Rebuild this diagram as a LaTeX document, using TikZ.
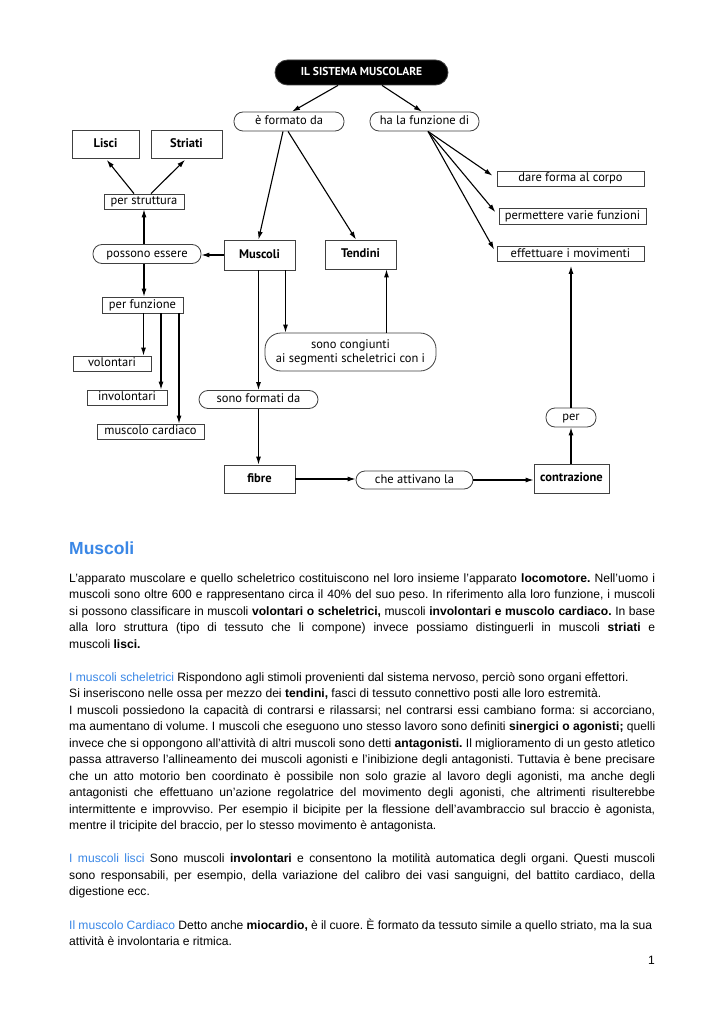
\documentclass[tikz,border=0pt]{standalone}
\usepackage{fontspec}
\setmainfont{Liberation Sans}
\newfontfamily\mapfont{PT Sans}
\usetikzlibrary{arrows.meta,calc}
\definecolor{musblue}{RGB}{58,135,230}
\frenchspacing
\begin{document}
\begin{tikzpicture}[x=1pt,y=-1pt,
  cbase/.style={draw=black!75,line width=0.8pt,inner sep=0pt,font=\mapfont\fontsize{12.5}{14}\selectfont,align=center},
  cbox/.style={cbase,text height=8.8pt,text depth=2.6pt},
  bcbox/.style={cbox,font=\mapfont\fontsize{12.5}{14}\selectfont\bfseries},
  pill/.style={cbox,rounded corners=#1},
  pill/.default=9pt,
  arr/.style={-{Latex[length=8pt,width=5pt]},line width=1.1pt},
  body/.style={anchor=base west,inner sep=0pt,font=\fontsize{12.1}{17}\selectfont},
  head/.style={anchor=base west,inner sep=0pt,font=\fontsize{17.5}{20}\selectfont\bfseries,text=musblue}]
\useasboundingbox (0,0) rectangle (724,1024);
\fill[white] (0,0) rectangle (724,1024);

% ---------- concept map ----------
\node[cbox,fill=black,text=white,rounded corners=12.5pt,minimum width=173pt,minimum height=25pt,font=\mapfont\fontsize{11.5}{13}\selectfont\bfseries] (title) at (361.5,72.5) {IL SISTEMA MUSCOLARE};
\node[pill,minimum width=110pt,minimum height=19pt] (efd) at (289,121.5) {è formato da};
\node[pill,minimum width=109pt,minimum height=19pt] (hlf) at (424.5,121.5) {ha la funzione di};
\node[bcbox,minimum width=67pt,minimum height=28pt] (lisci) at (105.5,144) {Lisci};
\node[bcbox,minimum width=71pt,minimum height=28pt] (striati) at (186.5,144) {Striati};
\node[cbox,minimum width=80pt,minimum height=15pt] (perstr) at (144,201.5) {per struttura};
\node[pill,minimum width=108pt,minimum height=19pt] (possono) at (147,254) {possono essere};
\node[bcbox,minimum width=71pt,minimum height=30pt] (muscoli) at (259.5,255) {Muscoli};
\node[bcbox,minimum width=71pt,minimum height=29pt] (tendini) at (360.5,254.5) {Tendini};
\node[cbox,minimum width=147pt,minimum height=15pt] (dare) at (570.5,178.5) {dare forma al corpo};
\node[cbox,minimum width=147pt,minimum height=16pt] (perm) at (572.5,216) {permettere varie funzioni};
\node[cbox,minimum width=147pt,minimum height=15pt] (eff) at (570.5,254) {effettuare i movimenti};
\node[cbox,minimum width=81pt,minimum height=16pt] (perfunz) at (142.5,305) {per funzione};
\node[cbox,minimum width=78pt,minimum height=15pt] (volont) at (112,363.5) {volontari};
\node[cbox,minimum width=80pt,minimum height=15pt] (invol) at (127,397.5) {involontari};
\node[cbox,minimum width=107pt,minimum height=15pt] (cardiaco) at (150.5,431.5) {muscolo cardiaco};
\node[cbase,rounded corners=16pt,minimum width=171pt,minimum height=38pt] (congiunti) at (350.5,352) {sono congiunti\\ai segmenti scheletrici con i};
\node[pill,minimum width=119pt,minimum height=18pt] (formati) at (258.5,399.5) {sono formati da};
\node[pill,minimum width=50pt,minimum height=19pt] (per) at (571,417.5) {per};
\node[bcbox,minimum width=71pt,minimum height=28pt] (fibre) at (259.5,479) {fibre};
\node[pill,minimum width=117pt,minimum height=18pt] (attivano) at (414.5,480) {che attivano la};
\node[bcbox,minimum width=75pt,minimum height=29pt] (contraz) at (571.5,478.5) {contrazione};

\coordinate (xa) at (143.5,0);
\coordinate (xb) at (161,0);
\coordinate (xc) at (179,0);
\coordinate (xs) at (144,0);
\coordinate (xm1) at (258.5,0);
\coordinate (xm2) at (285.5,0);
\coordinate (xt) at (386.5,0);
\coordinate (xr) at (571,0);

\draw[arr] ([xshift=-23.5pt]title.south) -- ([xshift=3pt]efd.north);
\draw[arr] ([xshift=20.5pt]title.south) -- ([xshift=-2.5pt]hlf.north);
\draw[arr] ([xshift=-6pt]efd.south) -- ([xshift=-1pt]muscoli.north);
\draw[arr] ([xshift=-1pt]efd.south) -- ([xshift=-4.5pt]tendini.north);
\draw[arr,shorten >=5pt] ([xshift=3.5pt]hlf.south) -- (dare.west);
\draw[arr,shorten >=5pt] ([xshift=3.5pt]hlf.south) -- (perm.west);
\draw[arr,shorten >=5pt] ([xshift=3.5pt]hlf.south) -- (eff.west);
\draw[arr,shorten >=2pt] ([xshift=-10pt]perstr.north) -- (lisci.south);
\draw[arr,shorten >=2pt] ([xshift=7pt]perstr.north) -- (striati.south);
\draw[arr] (possono.north -| xs) -- (perstr.south -| xs);
\draw[arr] (possono.south -| xs) -- (perfunz.north -| xs);
\draw[arr] (perfunz.south -| xa) -- (volont.north -| xa);
\draw[arr] (perfunz.south -| xb) -- (invol.north -| xb);
\draw[arr] (perfunz.south -| xc) -- (cardiaco.north -| xc);
\draw[arr] (muscoli.west) -- (muscoli.west -| possono.east);
\draw[arr] (muscoli.south -| xm1) -- (formati.north -| xm1);
\draw[arr] (formati.south -| xm1) -- (fibre.north -| xm1);
\draw[arr] (muscoli.south -| xm2) -- (congiunti.north -| xm2);
\draw[arr] (congiunti.north -| xt) -- (tendini.south -| xt);
\draw[arr] (fibre.east) -- (fibre.east -| attivano.west);
\draw[arr] (attivano.east) -- (attivano.east -| contraz.west);
\draw[arr] (contraz.north -| xr) -- (per.south -| xr);
\draw[arr,shorten >=4pt] (per.north -| xr) -- (eff.south -| xr);

% ---------- text ----------
\node[head] (h1) at (69,554) {Muscoli};

\node[body] (a1) at (69,582) {\hbox to 586pt{L'apparato muscolare e quello scheletrico costituiscono nel loro insieme l'apparato \textbf{locomotore.} Nell'uomo i}};
\node[body] (a2) at (69,598.5) {\hbox to 586pt{muscoli sono oltre 600 e rappresentano circa il 40\% del suo peso. In riferimento alla loro funzione, i muscoli}};
\node[body] (a3) at (69,615) {\hbox to 586pt{si possono classificare in muscoli \textbf{volontari o scheletrici,} muscoli \textbf{involontari e muscolo cardiaco.} In base}};
\node[body] (a4) at (69,631.5) {\hbox to 586pt{alla loro struttura (tipo di tessuto che li compone) invece possiamo distinguerli in muscoli \textbf{striati} e}};
\node[body] (a5) at (69,648) {muscoli \textbf{lisci.}};

\node[body] (b1) at (69,681) {{\color{musblue}I muscoli scheletrici} Rispondono agli stimoli provenienti dal sistema nervoso, perciò sono organi effettori.};
\node[body] (b2) at (69,697.5) {Si inseriscono nelle ossa per mezzo dei \textbf{tendini,} fasci di tessuto connettivo posti alle loro estremità.};
\node[body] (b3) at (69,714) {\hbox to 586pt{I muscoli possiedono la capacità di contrarsi e rilassarsi; nel contrarsi essi cambiano forma: si accorciano,}};
\node[body] (b4) at (69,730.5) {\hbox to 586pt{ma aumentano di volume. I muscoli che eseguono uno stesso lavoro sono definiti \textbf{sinergici o agonisti;} quelli}};
\node[body] (b5) at (69,747) {\hbox to 586pt{invece che si oppongono all'attività di altri muscoli sono detti \textbf{antagonisti.} Il miglioramento di un gesto atletico}};
\node[body] (b6) at (69,763.5) {\hbox to 586pt{passa attraverso l'allineamento dei muscoli agonisti e l'inibizione degli antagonisti. Tuttavia è bene precisare}};
\node[body] (b7) at (69,780) {\hbox to 586pt{che un atto motorio ben coordinato è possibile non solo grazie al lavoro degli agonisti, ma anche degli}};
\node[body] (b8) at (69,796.5) {\hbox to 586pt{antagonisti che effettuano un'azione regolatrice del movimento degli agonisti, che altrimenti risulterebbe}};
\node[body] (b9) at (69,813) {\hbox to 586pt{intermittente e improvviso. Per esempio il bicipite per la flessione dell'avambraccio sul braccio è agonista,}};
\node[body] (b10) at (69,829.5) {mentre il tricipite del braccio, per lo stesso movimento è antagonista.};

\node[body] (c1) at (69,862.5) {\hbox to 586pt{{\color{musblue}I muscoli lisci} Sono muscoli \textbf{involontari} e consentono la motilità automatica degli organi. Questi muscoli}};
\node[body] (c2) at (69,879) {\hbox to 586pt{sono responsabili, per esempio, della variazione del calibro dei vasi sanguigni, del battito cardiaco, della}};
\node[body] (c3) at (69,895.5) {digestione ecc.};

\node[body] (d1) at (69,929) {\hbox to 583pt{{\color{musblue}Il muscolo Cardiaco} Detto anche \textbf{miocardio,} è il cuore. È formato da tessuto simile a quello striato, ma la sua}};
\node[body] (d2) at (69,945.5) {attività è involontaria e ritmica.};

\node[body,anchor=base east] (pg) at (655,964) {1};
\end{tikzpicture}
\end{document}
